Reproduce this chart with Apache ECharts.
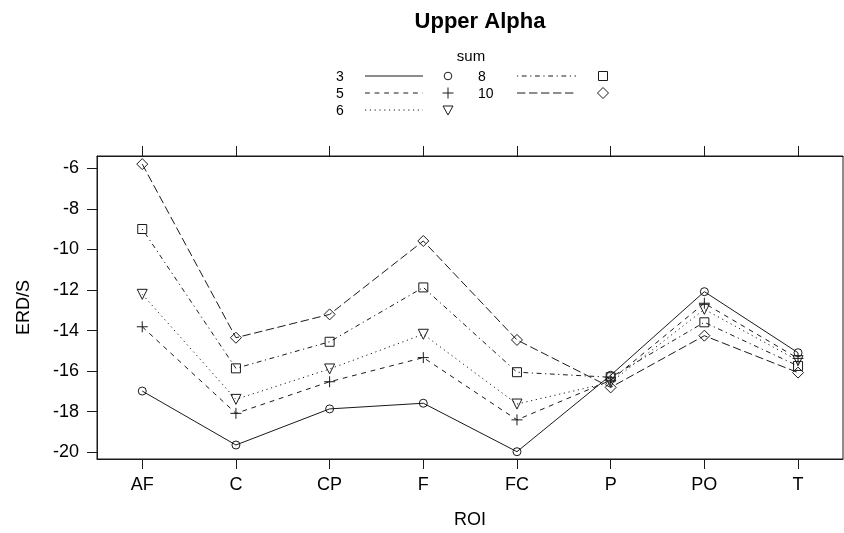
<!DOCTYPE html>
<html>
<head>
<meta charset="utf-8">
<script src="https://cdn.jsdelivr.net/npm/echarts@6/dist/echarts.min.js"></script>
<style>
html,body{margin:0;padding:0;background:#fff;}
#chart{width:844px;height:533px;}
</style>
</head>
<body>
<div id="chart"></div>
<script>
// ---- data ----
const categories = ['AF', 'C', 'CP', 'F', 'FC', 'P', 'PO', 'T'];
const sumLevels = ['3', '5', '6', '8', '10'];
const sum3  = [-16.98, -19.64, -17.86, -17.58, -19.97, -16.20, -12.08, -15.09];
const sum5  = [-13.81, -18.08, -16.52, -15.33, -18.40, -16.45, -12.65, -15.37];
const sum6  = [-12.21, -17.39, -15.89, -14.18, -17.62, -16.55, -12.95, -15.48];
const sum8  = [-8.99,  -15.86, -14.55, -11.87, -16.05, -16.30, -13.59, -15.74];
const sum10 = [-5.79,  -14.35, -13.20, -9.58,  -14.46, -16.80, -14.25, -16.07];
const yTicks = [-20, -18, -16, -14, -12, -10, -8, -6];
const title = 'Upper Alpha';
const legendTitle = 'sum';
const xName = 'ROI';
const yName = 'ERD/S';

const seriesValues = [sum3, sum5, sum6, sum8, sum10];
const INK = '#1a1a1a';
const FONT = '"Liberation Sans", Arial, Helvetica, sans-serif';
const dashes = ['solid', [4.8, 4.8], [1.2, 3.6], [1.2, 3.6, 4.8, 3.6], [8.4, 3.6]];
const plusPath = 'path://M0,5 L10,5 M5,0 L5,10';
const symbols = ['circle', plusPath, 'triangle', 'rect', 'diamond'];
const symbolSizes = [8, 11, 10, 9, 11];
const symbolRot = [0, 0, 180, 0, 0];

const series = seriesValues.map((vals, i) => ({
  name: sumLevels[i],
  type: 'line',
  data: vals.map((v, k) => [k + 1, v]),
  symbol: symbols[i],
  symbolSize: symbolSizes[i],
  symbolRotate: symbolRot[i],
  showAllSymbol: true,
  lineStyle: { color: INK, width: 1, type: dashes[i] },
  itemStyle: { color: 'none', borderColor: INK, borderWidth: 1 },
  emphasis: { disabled: true },
  animation: false,
  z: 3
}));

// ---- legend (key) drawn as graphics ----
const rowsY = [76, 93, 110];
const graphics = [];
graphics.push({ type: 'text', style: { text: legendTitle, font: '15px ' + FONT, fill: '#000', x: 471, y: 57, align: 'center', verticalAlign: 'middle' } });
function keySymbol(kind, cx, cy) {
  const st = { fill: 'none', stroke: INK, lineWidth: 1 };
  if (kind === 0) return { type: 'circle', shape: { cx: cx, cy: cy, r: 3.8 }, style: st };
  if (kind === 1) return { type: 'group', children: [
    { type: 'line', shape: { x1: cx - 5.5, y1: cy, x2: cx + 5.5, y2: cy }, style: st },
    { type: 'line', shape: { x1: cx, y1: cy - 5.5, x2: cx, y2: cy + 5.5 }, style: st }] };
  if (kind === 2) return { type: 'polygon', shape: { points: [[cx - 5, cy - 4], [cx + 5, cy - 4], [cx, cy + 5]] }, style: st };
  if (kind === 3) return { type: 'rect', shape: { x: cx - 4.5, y: cy - 4.5, width: 9, height: 9 }, style: st };
  return { type: 'polygon', shape: { points: [[cx, cy - 5.5], [cx + 5.5, cy], [cx, cy + 5.5], [cx - 5.5, cy]] }, style: st };
}
sumLevels.forEach((lab, i) => {
  const col = i < 3 ? 0 : 1;
  const row = i < 3 ? i : i - 3;
  const y = rowsY[row];
  const tx = col === 0 ? 336 : 478;
  const lx1 = col === 0 ? 365 : 517;
  const lx2 = col === 0 ? 423 : 576;
  const sx = col === 0 ? 448 : 603;
  graphics.push({ type: 'text', style: { text: lab, x: tx, y: y + 1, font: '14px ' + FONT, fill: '#000', align: 'left', verticalAlign: 'middle' } });
  const d = dashes[i];
  graphics.push({ type: 'line', shape: { x1: lx1, y1: y, x2: lx2, y2: y }, style: { stroke: INK, lineWidth: 1, lineDash: d === 'solid' ? null : d } });
  graphics.push(keySymbol(i, sx, y));
});

const chart = echarts.init(document.getElementById('chart'), null, { renderer: 'canvas' });
chart.setOption({
  animation: false,
  backgroundColor: '#fff',
  title: {
    text: title, left: 475, top: 6, textAlign: 'center',
    textStyle: { fontFamily: FONT, fontSize: 22, fontWeight: 'bold', color: '#000' }
  },
  grid: { left: 97, right: 1, top: 156, bottom: 74, outerBoundsMode: 'none', containLabel: false,
    show: true, borderColor: INK, borderWidth: 1, backgroundColor: 'transparent' },
  xAxis: [{
    type: 'value', min: 0.517, max: 8.48, position: 'bottom',
    name: xName, nameLocation: 'middle', nameGap: 52,
    nameTextStyle: { fontFamily: FONT, fontSize: 18, color: '#000' },
    axisLine: { show: true, lineStyle: { color: INK } },
    axisTick: { show: true, length: 10, lineStyle: { color: INK }, customValues: [1, 2, 3, 4, 5, 6, 7, 8] },
    axisLabel: { show: true, margin: 17, fontFamily: FONT, fontSize: 18, color: '#000',
      customValues: [1, 2, 3, 4, 5, 6, 7, 8], formatter: v => categories[Math.round(v) - 1] },
    splitLine: { show: false }
  }, {
    type: 'value', min: 0.517, max: 8.48, position: 'top',
    axisLine: { show: true, lineStyle: { color: INK } },
    axisTick: { show: true, length: 10, lineStyle: { color: INK }, customValues: [1, 2, 3, 4, 5, 6, 7, 8] },
    axisLabel: { show: false },
    splitLine: { show: false }
  }],
  yAxis: {
    type: 'value', min: -20.33, max: -5.39,
    name: yName, nameLocation: 'middle', nameGap: 64,
    nameTextStyle: { fontFamily: FONT, fontSize: 18, color: '#000' },
    axisLine: { show: true, lineStyle: { color: INK } },
    axisTick: { show: true, length: 10, lineStyle: { color: INK }, customValues: yTicks },
    axisLabel: { show: true, margin: 18, fontFamily: FONT, fontSize: 18, color: '#000', customValues: yTicks },
    splitLine: { show: false }
  },
  series: series,
  graphic: graphics
});
</script>
</body>
</html>
